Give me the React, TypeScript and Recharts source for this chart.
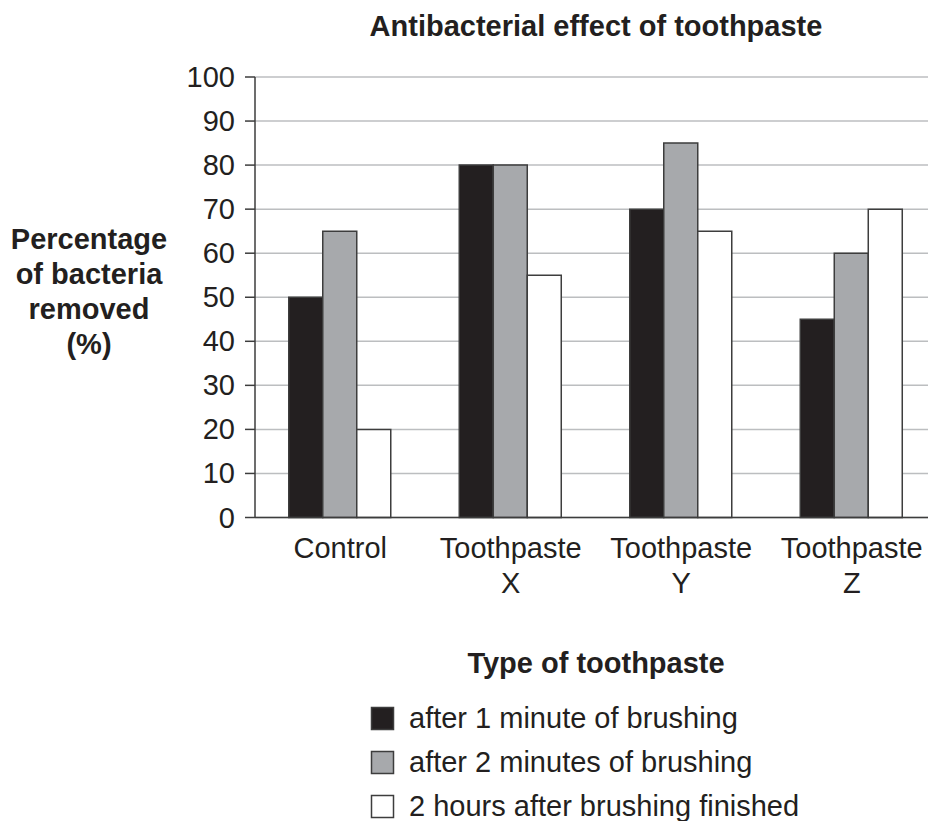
import React from 'react';
import { BarChart, Bar, XAxis, YAxis, CartesianGrid } from 'recharts';

const categories = ['Control', 'Toothpaste X', 'Toothpaste Y', 'Toothpaste Z'];
const after1Min = [50, 80, 70, 45];
const after2Min = [65, 80, 85, 60];
const after2Hours = [20, 55, 65, 70];
const yTicks = [0, 10, 20, 30, 40, 50, 60, 70, 80, 90, 100];

const seriesNames = [
  'after 1 minute of brushing',
  'after 2 minutes of brushing',
  '2 hours after brushing finished',
];
const seriesColors = ['#231f20', '#a7a9ac', '#ffffff'];
const seriesKeys = ['a1', 'a2', 'a3'];

const data = categories.map((c, i) => ({
  name: c,
  a1: after1Min[i],
  a2: after2Min[i],
  a3: after2Hours[i],
}));

const FONT = '"Liberation Sans", Arial, Helvetica, sans-serif';
const TEXT = '#231f20';
const OUTLINE = '#3d3d3d';
const FS = 29;

const XTick = (props: any) => {
  const { x, y, payload } = props;
  const lines = String(payload.value).split(' ');
  return (
    <text x={x} y={y} textAnchor="middle" fill={TEXT} fontSize={FS} fontFamily={FONT}>
      {lines.map((l: string, i: number) => (
        <tspan key={i} x={x} y={y + 40 + i * 35}>
          {l}
        </tspan>
      ))}
    </text>
  );
};

const YTick = (props: any) => {
  const { x, y, payload } = props;
  return (
    <text x={x} y={y + 10} textAnchor="end" fill={TEXT} fontSize={FS} fontFamily={FONT}>
      {payload.value}
    </text>
  );
};

const yLabelLines = ['Percentage', 'of bacteria', 'removed', '(%)'];

const YLabel = (props: any) => {
  const vb = props.viewBox || { x: 0, y: 77 };
  return (
    <text textAnchor="middle" fill={TEXT} fontSize={FS} fontWeight="bold" fontFamily={FONT}>
      {yLabelLines.map((l, i) => (
        <tspan key={i} x={89} y={vb.y + 172 + i * 35}>
          {l}
        </tspan>
      ))}
    </text>
  );
};

const XLabel = (props: any) => {
  const vb = props.viewBox || { x: 255, y: 517, width: 682 };
  return (
    <text
      x={vb.x + vb.width / 2}
      y={vb.y + 155}
      textAnchor="middle"
      fill={TEXT}
      fontSize={FS}
      fontWeight="bold"
      fontFamily={FONT}
    >
      Type of toothpaste
    </text>
  );
};

export default function App() {
  return (
    <div
      style={{
        position: 'fixed',
        left: 0,
        top: 0,
        width: 928,
        height: 821,
        overflow: 'hidden',
        background: '#fff',
      }}
    >
      <BarChart
        width={937}
        height={821}
        data={data}
        margin={{ top: 77, right: 0, left: 0, bottom: 103.5 }}
        barCategoryGap="19.8%"
        barGap={0}
      >
        <CartesianGrid vertical={false} stroke="#bcbec0" strokeWidth={1.5} />
        <XAxis
          dataKey="name"
          height={200}
          tick={<XTick />}
          tickLine={false}
          tickSize={0}
          tickMargin={0}
          axisLine={{ stroke: OUTLINE, strokeWidth: 1.5 }}
          interval={0}
          label={<XLabel />}
        />
        <YAxis
          width={255}
          domain={[0, 100]}
          ticks={yTicks}
          interval={0}
          tick={<YTick />}
          tickSize={10}
          tickMargin={10}
          tickLine={{ stroke: OUTLINE, strokeWidth: 1.5 }}
          axisLine={{ stroke: OUTLINE, strokeWidth: 1.5 }}
          label={<YLabel />}
        />
        {seriesKeys.map((k, i) => (
          <Bar
            key={k}
            dataKey={k}
            name={seriesNames[i]}
            fill={seriesColors[i]}
            stroke={OUTLINE}
            strokeWidth={1.5}
            isAnimationActive={false}
          />
        ))}
      </BarChart>
      <svg
        width={928}
        height={821}
        style={{ position: 'absolute', left: 0, top: 0, pointerEvents: 'none' }}
      >
        <text
          x={596}
          y={36}
          textAnchor="middle"
          fill={TEXT}
          fontSize={FS}
          fontWeight="bold"
          fontFamily={FONT}
        >
          Antibacterial effect of toothpaste
        </text>
        {seriesNames.map((n, i) => (
          <g key={n}>
            <rect
              x={371.5}
              y={707.5 + i * 44}
              width={22}
              height={22}
              fill={seriesColors[i]}
              stroke={OUTLINE}
              strokeWidth={1.5}
            />
            <text x={409} y={728 + i * 44} fill={TEXT} fontSize={FS} fontFamily={FONT}>
              {n}
            </text>
          </g>
        ))}
      </svg>
    </div>
  );
}
